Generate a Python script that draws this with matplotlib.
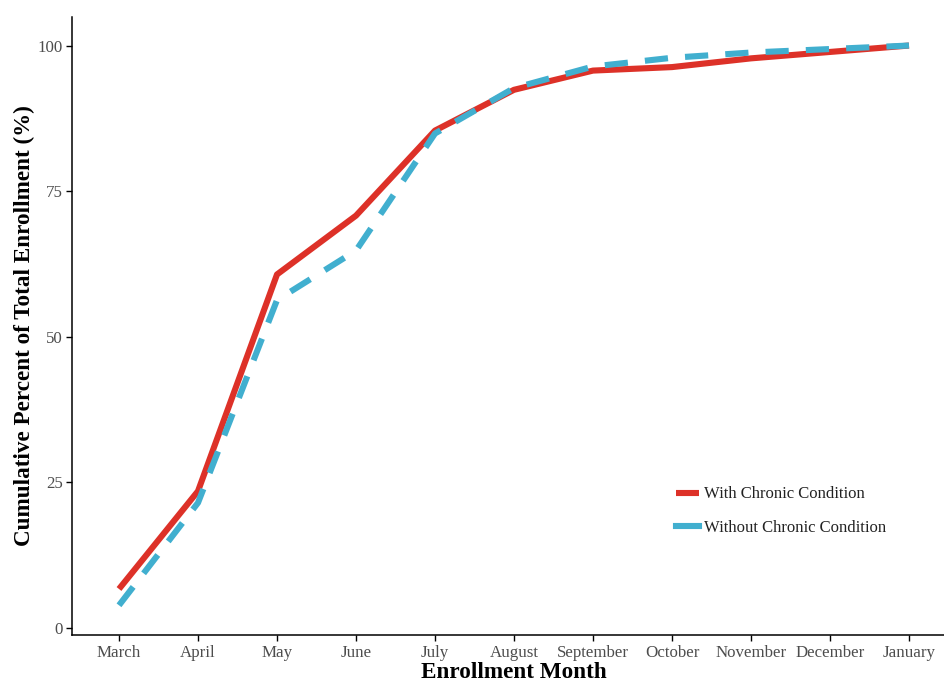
import numpy as np
import matplotlib
matplotlib.use("Agg")
import matplotlib.pyplot as plt

# cumulative enrollment by month
months = ["March", "April", "May", "June", "July", "August", "September",
          "October", "November", "December", "January"]
with_chronic = [6.7, 23.5, 60.7, 70.8, 85.4, 92.4, 95.7, 96.3, 97.8, 98.9, 100.0]
without_chronic = [3.9, 21.5, 56.3, 64.8, 84.9, 92.7, 96.4, 97.9, 98.8, 99.4, 100.0]

red = "#DD3128"
blue = "#41AFCF"

plt.rcParams["font.family"] = ["Liberation Serif", "DejaVu Serif"]

fig = plt.figure(figsize=(9.44, 6.81), dpi=100)
# panel runs a bit past the right edge, like the cropped original
ax = fig.add_axes([71.6 / 944, 1 - 635 / 681, (956.4 - 71.6) / 944, (635 - 17) / 681])

x = np.arange(len(months))
ax.plot(x, with_chronic, color=red, lw=4.4, solid_capstyle="butt",
        label="With Chronic Condition")
ax.plot(x, without_chronic, color=blue, lw=4.4, dashes=(3.8, 2.8),
        dash_capstyle="butt", label="Without Chronic Condition")

ax.set_xlim(-0.6, 10.6)
ax.set_ylim(-1.2, 104.9)
ax.set_xticks(x)
ax.set_xticklabels(months)
ax.set_yticks([0, 25, 50, 75, 100])

for s in ["top", "right"]:
    ax.spines[s].set_visible(False)
for s in ["left", "bottom"]:
    ax.spines[s].set_linewidth(1.1)
    ax.spines[s].set_color("black")

ax.tick_params(axis="both", length=4, width=1.0, color="black",
               labelsize=12.2, labelcolor="#4D4D4D", pad=3.5)
ax.tick_params(axis="y", pad=2.5)

ax.set_xlabel("Enrollment Month", fontsize=16.7, fontweight="bold", labelpad=0.3)
ax.set_ylabel("Cumulative Percent of Total Enrollment (%)", fontsize=16.7,
              fontweight="bold", labelpad=2)

leg = ax.legend(loc="center left", bbox_to_anchor=(676 / 944, 1 - 511 / 681),
                bbox_transform=fig.transFigure, frameon=False, fontsize=12,
                handlelength=1.4, handletextpad=0.3, labelspacing=1.04,
                borderpad=0, borderaxespad=0)
for t in leg.get_texts():
    t.set_color("#222222")
for h in leg.get_lines():
    h.set_linestyle("-")

fig.savefig("out.png", dpi=100)
